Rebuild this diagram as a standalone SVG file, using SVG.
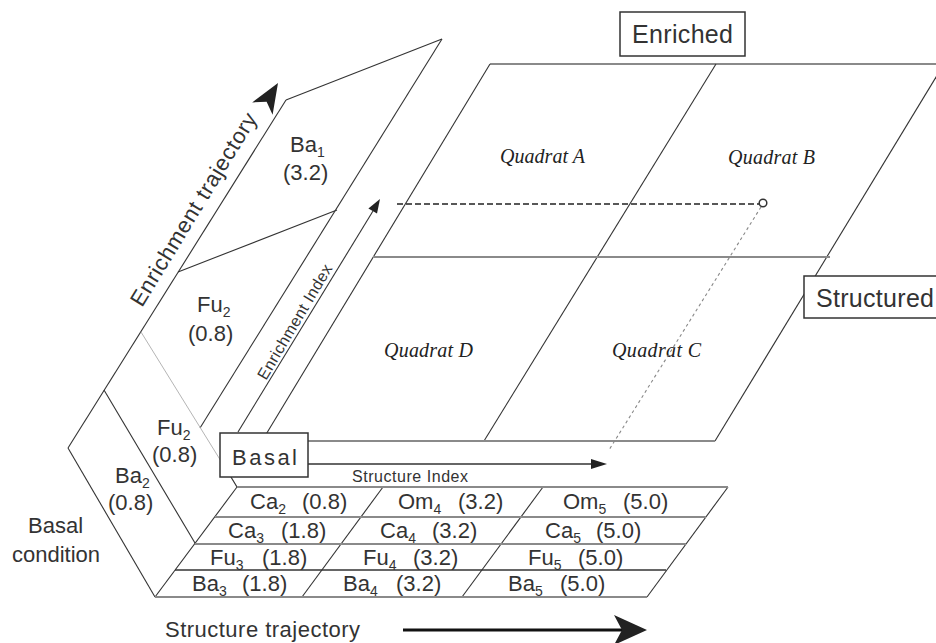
<svg xmlns="http://www.w3.org/2000/svg" width="936" height="643" viewBox="0 0 936 643">
<style>
.ln{stroke:#333;stroke-width:1.1;fill:none}
.hl{stroke:#8a8a8a;stroke-width:2;fill:none}
.dk{stroke:#333;stroke-width:1.6;fill:none}
.thin{stroke:#b5b5b5;stroke-width:1;fill:none}
.box{fill:#fff;stroke:#333;stroke-width:1.5}
.t{font-family:"Liberation Sans",Arial,sans-serif;fill:#333;font-size:22px}
.s{font-size:14px}
.big{font-size:25px}
.sm{font-size:16px}
.q{font-family:"Liberation Serif","Times New Roman",serif;font-style:italic;fill:#222;font-size:20px}
.head{fill:#222;stroke:none}
</style>
<rect width="936" height="643" fill="#fff"/>

<g id="quadrat-plane">
  <line class="hl" x1="490" y1="64" x2="936" y2="64"/>
  <line class="ln" x1="490" y1="64" x2="262" y2="441"/>
  <line class="ln" x1="716" y1="64" x2="484" y2="441"/>
  <line class="ln" x1="944" y1="64" x2="715" y2="441"/>
  <line class="hl" x1="373" y1="257" x2="830" y2="257"/>
  <line class="hl" x1="262" y1="441" x2="715" y2="441"/>
  <text class="q" x="500" y="163" textLength="85">Quadrat A</text>
  <text class="q" x="728" y="164" textLength="87">Quadrat B</text>
  <text class="q" x="384" y="357" textLength="89">Quadrat D</text>
  <text class="q" x="612" y="357" textLength="89">Quadrat C</text>
</g>

<g id="enrichment-board">
  <line class="ln" x1="286" y1="100" x2="442" y2="39"/>
  <line class="ln" x1="442" y1="39" x2="200" y2="428"/>
  <line class="ln" x1="286" y1="100" x2="68" y2="448"/>
  <line class="ln" x1="178" y1="272" x2="337" y2="210"/>
  <line class="thin" x1="141" y1="332" x2="237" y2="487"/>
  <line class="ln" x1="231" y1="477" x2="237" y2="487"/>
  <text class="t" x="290" y="152">Ba<tspan class="s" dy="5">1</tspan><tspan x="283" dy="23">(3.2)</tspan></text>
  <text class="t" x="197" y="312">Fu<tspan class="s" dy="5">2</tspan><tspan x="188" dy="24">(0.8)</tspan></text>
  <text class="t" transform="translate(142,308) rotate(-58.6)" font-size="23.5" textLength="222">Enrichment trajectory</text>
</g>

<g id="basal-board">
  <line class="ln" x1="104" y1="390" x2="195" y2="543"/>
  <line class="ln" x1="68" y1="448" x2="155" y2="597"/>
  <text class="t" x="157" y="435">Fu<tspan class="s" dy="5">2</tspan><tspan x="152" dy="22">(0.8)</tspan></text>
  <text class="t" x="115" y="483">Ba<tspan class="s" dy="5">2</tspan><tspan x="108" dy="22">(0.8)</tspan></text>
  <text class="t" x="28" y="533">Basal</text>
  <text class="t" x="12" y="562">condition</text>
</g>

<g id="table">
  <line class="ln" x1="155" y1="597" x2="237" y2="487"/>
  <line class="ln" x1="383" y1="487" x2="302" y2="597"/>
  <line class="ln" x1="543" y1="487" x2="462" y2="597"/>
  <line class="ln" x1="728" y1="487" x2="647" y2="597"/>
  <line class="hl" x1="237" y1="487" x2="728" y2="487"/>
  <line class="hl" x1="215" y1="517" x2="706" y2="517"/>
  <line class="hl" x1="195" y1="544" x2="686" y2="544"/>
  <line class="dk" x1="175" y1="570" x2="666" y2="570"/>
  <line class="hl" x1="155" y1="597" x2="647" y2="597"/>
  <g id="row1">
    <text class="t" x="250" y="509">Ca<tspan class="s" dy="5">2</tspan><tspan x="302" dy="-5">(0.8)</tspan></text>
    <text class="t" x="398" y="509">Om<tspan class="s" dy="5">4</tspan><tspan x="458" dy="-5">(3.2)</tspan></text>
    <text class="t" x="563" y="509">Om<tspan class="s" dy="5">5</tspan><tspan x="623" dy="-5">(5.0)</tspan></text>
  </g>
  <g id="row2">
    <text class="t" x="228" y="538">Ca<tspan class="s" dy="5">3</tspan><tspan x="281" dy="-5">(1.8)</tspan></text>
    <text class="t" x="380" y="538">Ca<tspan class="s" dy="5">4</tspan><tspan x="432" dy="-5">(3.2)</tspan></text>
    <text class="t" x="545" y="538">Ca<tspan class="s" dy="5">5</tspan><tspan x="596" dy="-5">(5.0)</tspan></text>
  </g>
  <g id="row3">
    <text class="t" x="210" y="565">Fu<tspan class="s" dy="5">3</tspan><tspan x="262" dy="-5">(1.8)</tspan></text>
    <text class="t" x="363" y="565">Fu<tspan class="s" dy="5">4</tspan><tspan x="413" dy="-5">(3.2)</tspan></text>
    <text class="t" x="528" y="565">Fu<tspan class="s" dy="5">5</tspan><tspan x="578" dy="-5">(5.0)</tspan></text>
  </g>
  <g id="row4">
    <text class="t" x="192" y="591">Ba<tspan class="s" dy="5">3</tspan><tspan x="242" dy="-5">(1.8)</tspan></text>
    <text class="t" x="343" y="591">Ba<tspan class="s" dy="5">4</tspan><tspan x="396" dy="-5">(3.2)</tspan></text>
    <text class="t" x="508" y="591">Ba<tspan class="s" dy="5">5</tspan><tspan x="560" dy="-5">(5.0)</tspan></text>
  </g>
</g>

<g id="connectors">
  <line class="ln" x1="238" y1="432" x2="373" y2="211"/>
  <polygon class="head" points="380,199 377,213.6 368.4,208.4"/>
  <text class="t sm" transform="translate(266,381) rotate(-59.3)" textLength="131">Enrichment Index</text>
  <line class="dk" x1="308" y1="464" x2="593" y2="464"/>
  <polygon class="head" points="607,464 591,459 591,469"/>
  <text class="t sm" x="352" y="482" textLength="116">Structure Index</text>
  <polygon class="head" points="278,83 272.6,114.8 266.6,101.8 252.2,102.4"/>
  <line x1="403" y1="630" x2="625" y2="630" stroke="#111" stroke-width="3"/>
  <polygon class="head" points="647,630 614,615 622,630 614,645"/>
  <text class="t" x="165" y="637" font-size="23" textLength="195">Structure trajectory</text>
  <line x1="397" y1="204" x2="759" y2="204" stroke="#222" stroke-width="1.3" stroke-dasharray="6 3"/>
  <line x1="761" y1="207" x2="609" y2="450" stroke="#888" stroke-width="1.1" stroke-dasharray="3 3"/>
  <circle cx="763" cy="203" r="3.8" fill="#fff" stroke="#333" stroke-width="1.5"/>
</g>

<g id="node-enriched">
  <rect class="box" x="620" y="12" width="125" height="44"/>
  <text class="t big" x="632" y="43" textLength="101">Enriched</text>
</g>
<g id="node-structured">
  <rect class="box" x="804" y="276" width="140" height="42"/>
  <text class="t big" x="816" y="307" textLength="118">Structured</text>
</g>
<g id="node-basal">
  <rect class="box" x="220" y="433" width="88" height="44"/>
  <text class="t" x="232" y="465" font-size="26" textLength="65">Basal</text>
</g>
</svg>
